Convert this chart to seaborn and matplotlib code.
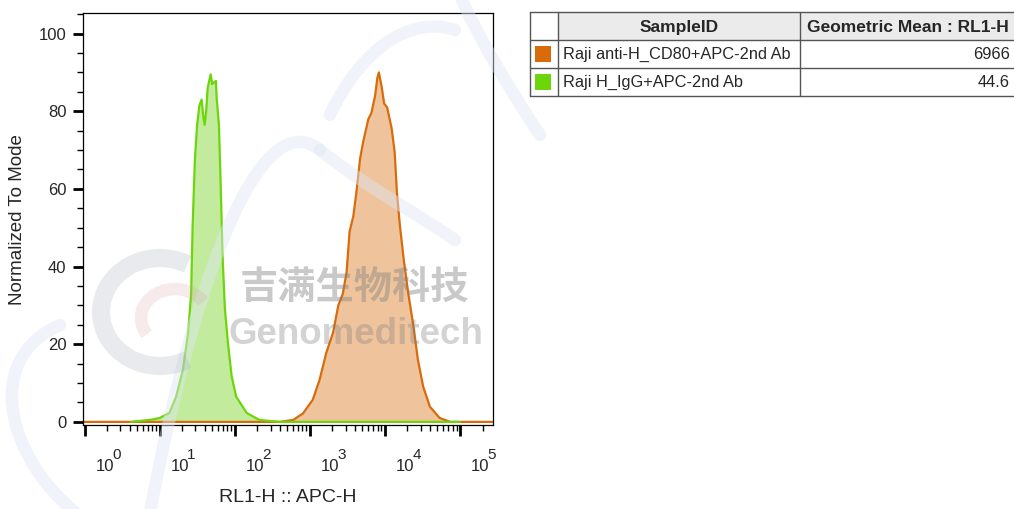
import numpy as np
import matplotlib
matplotlib.use("Agg")
import matplotlib.pyplot as plt
import matplotlib.transforms as mtransforms
from matplotlib.patches import Rectangle, Arc, PathPatch
from matplotlib.path import Path
from matplotlib.ticker import LogLocator, MultipleLocator, NullFormatter
import seaborn as sns

# histogram outlines: x as log10(RL1-H), y as % of mode
orange_log = [0.0, 2.6, 2.78, 2.91, 3.04, 3.13, 3.22, 3.31, 3.38, 3.44, 3.49, 3.53, 3.58,
              3.62, 3.67, 3.71, 3.78, 3.82, 3.87, 3.90, 3.92, 3.96, 3.99, 4.03, 4.09,
              4.13, 4.16, 4.20, 4.25, 4.31, 4.38, 4.44, 4.51, 4.60, 4.73, 4.87, 5.44]
orange_pct = [0, 0, 0.5, 2.2, 5.7, 10.8, 17.8, 23, 30, 33, 38.5, 49, 53,
              59, 67.8, 72, 78, 79.5, 84, 88.6, 90, 86, 82, 81, 75.6,
              69.6, 59.2, 50.6, 42, 33.3, 24.7, 16, 9.1, 3.9, 1.0, 0, 0]

green_log = [0.62, 0.9, 1.0, 1.13, 1.22, 1.31, 1.38, 1.42, 1.44, 1.47, 1.50, 1.53, 1.56,
             1.58, 1.60, 1.62, 1.64, 1.68, 1.70, 1.72, 1.75, 1.76, 1.79, 1.81, 1.84,
             1.87, 1.91, 1.96, 2.02, 2.16, 2.33, 2.6, 5.0]
green_pct = [0, 0.6, 1.0, 2.3, 6.5, 13.4, 23, 33, 50.5, 67.5, 76.5, 81.5, 83,
             79, 76.5, 80, 86, 89.5, 87, 87.3, 87.8, 83.4, 76.5, 63.5, 42,
             29, 20.3, 11.7, 6.5, 2.3, 0.5, 0, 0]

samples = ["Raji anti-H_CD80+APC-2nd Ab", "Raji H_IgG+APC-2nd Ab"]
geo_means = ["6966", "44.6"]
line_colors = ["#d96b0a", "#6cd60a"]
fill_colors = ["#efc49c", "#c3eb9e"]

decades = [0, 1, 2, 3, 4, 5]
y_ticks = [0, 20, 40, 60, 80, 100]

sns.set_style("ticks")
plt.rcParams["font.family"] = ["Liberation Sans", "DejaVu Sans"]

W, H = 1014, 509
fig = plt.figure(figsize=(W / 100, H / 100), dpi=100)
ax = fig.add_axes([83 / W, (H - 425) / H, 410 / W, 412 / H])

for logs, pct, lc, fc in zip([orange_log, green_log], [orange_pct, green_pct],
                             line_colors, fill_colors):
    x = 10 ** np.array(logs)
    ax.fill_between(x, pct, 0, color=fc, lw=0)
    sns.lineplot(x=x, y=pct, color=lc, lw=1.6, ax=ax)

ax.set_xscale("log")
ax.set_xlim(10 ** -0.02, 10 ** 5.44)
ax.set_ylim(-0.8, 105.3)

ax.set_xticks([10.0 ** d for d in decades])
ax.xaxis.set_minor_locator(LogLocator(base=10, subs=range(2, 10), numticks=20))
ax.xaxis.set_minor_formatter(NullFormatter())
ax.set_xticklabels([])
ax.tick_params(axis="x", which="major", direction="out", length=8, width=2, color="black")
ax.tick_params(axis="x", which="minor", direction="out", length=4, width=1, color="black")

ax.set_yticks(y_ticks)
ax.yaxis.set_minor_locator(MultipleLocator(5))
ax.tick_params(axis="y", which="major", direction="out", length=7, width=2,
               color="black", labelsize=12, pad=5)
ax.tick_params(axis="y", which="minor", direction="out", length=4, width=1, color="black")

for sp in ax.spines.values():
    sp.set_visible(True)
    sp.set_color("black")
    sp.set_linewidth(0.9)

# decade labels sit to the right of their ticks, like the cytometry software draws them
blend = mtransforms.blended_transform_factory(ax.transData, ax.transAxes)
for d in decades:
    base = blend + mtransforms.ScaledTranslation(0.20, 0, fig.dpi_scale_trans)
    ax.text(10.0 ** d, -0.10, "10", transform=base, ha="center", va="center", fontsize=12)
    sup = blend + mtransforms.ScaledTranslation(0.32, 0, fig.dpi_scale_trans)
    ax.text(10.0 ** d, -0.072, str(d), transform=sup, ha="center", va="center", fontsize=11)

ax.set_xlabel("")
ax.set_ylabel("")
fig.text(288 / W, 1 - 497 / H, "RL1-H :: APC-H", ha="center", va="center", fontsize=14)
fig.text(18 / W, 1 - 220 / H, "Normalized To Mode", ha="center", va="center",
         rotation=90, fontsize=13.5)

# overlay in pixel coordinates for the sample table and the watermark
ov = fig.add_axes([0, 0, 1, 1], facecolor="none")
ov.set_xlim(0, W)
ov.set_ylim(H, 0)
ov.axis("off")

cols = [530, 558, 800, 1016]
rows = [12, 40, 68, 96]
ov.add_patch(Rectangle((cols[1], rows[0]), cols[3] - cols[1], rows[1] - rows[0],
                       facecolor="#ebebeb", edgecolor="none"))
edge = "#555555"
for yy in rows:
    ov.plot([cols[0], cols[3]], [yy, yy], color=edge, lw=1)
for xx in cols[:3]:
    ov.plot([xx, xx], [rows[0], rows[3]], color=edge, lw=1)
ov.text((cols[1] + cols[2]) / 2, 27, "SampleID", ha="center", va="center",
        fontsize=12.5, fontweight="bold")
ov.text(908, 27, "Geometric Mean : RL1-H", ha="center", va="center",
        fontsize=12.5, fontweight="bold")
for i, (name, gm, col) in enumerate(zip(samples, geo_means, line_colors)):
    yc = (rows[i + 1] + rows[i + 2]) / 2
    ov.add_patch(Rectangle((535, yc - 8), 16, 16, facecolor=col, edgecolor="none"))
    ov.text(563, yc, name, ha="left", va="center", fontsize=11.8)
    ov.text(1010, yc, gm, ha="right", va="center", fontsize=11.8)

# watermark: faint blue strokes, logo swirl and company name
stroke = dict(facecolor="none", edgecolor="#dfe7f6", lw=9, alpha=0.45, capstyle="round")
C4, MV = Path.CURVE4, Path.MOVETO
for pts in [
    [(60, 325), (-20, 360), (10, 460), (75, 512)],
    [(150, 512), (200, 250), (265, 105), (320, 150)],
    [(320, 150), (370, 190), (420, 215), (455, 240)],
    [(330, 115), (360, 50), (410, 15), (455, 30)],
    [(462, 0), (480, 40), (510, 90), (540, 135)],
]:
    ov.add_patch(PathPatch(Path(pts, [MV, C4, C4, C4]), **stroke))

ov.add_patch(Arc((160, 312), 118, 108, theta1=60, theta2=300, color="#9aa3b0", lw=13, alpha=0.22))
ov.add_patch(Arc((175, 318), 68, 58, theta1=150, theta2=330, color="#d9a0a0", lw=9, alpha=0.22))
ov.text(355, 288, "吉满生物科技", ha="center", va="center", fontsize=27.5, fontweight="bold",
        color="#808080", alpha=0.42, family=["Noto Sans CJK SC", "DejaVu Sans"])
ov.text(356, 334, "Genomeditech", ha="center", va="center", fontsize=26.5, fontweight="bold",
        color="#808080", alpha=0.34)

fig.savefig("out.png", dpi=100)
